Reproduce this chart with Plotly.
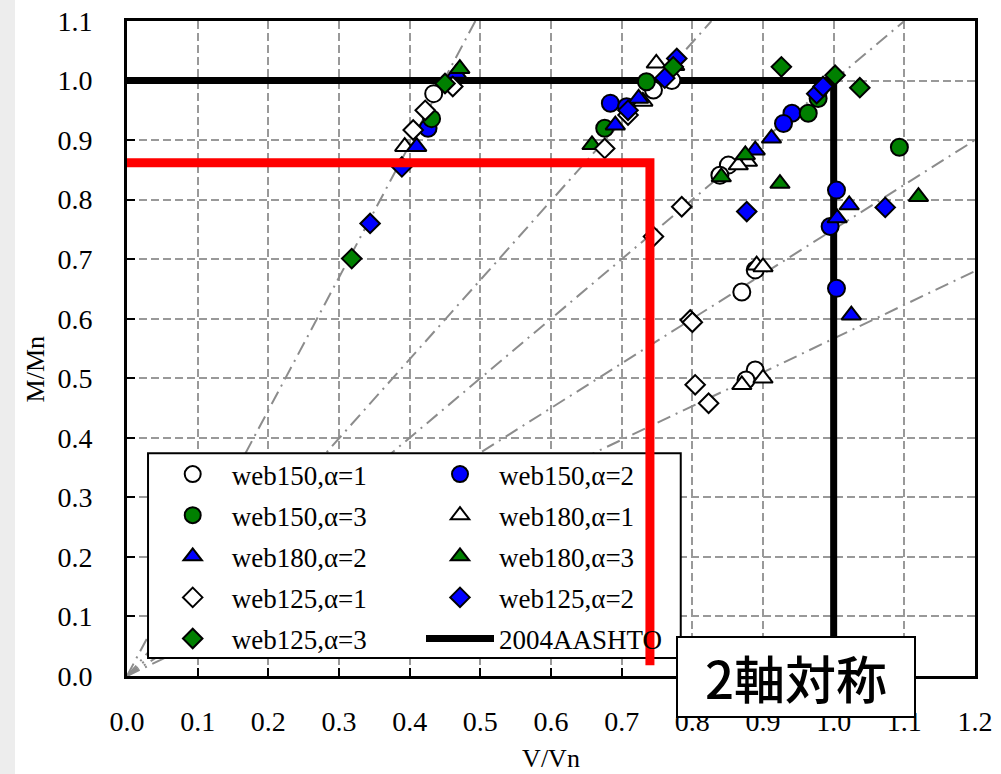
import plotly.graph_objects as go

# ---------------- data ----------------
w150_a1_v = [0.434, 0.771, 0.745, 0.851, 0.839, 0.889, 0.870, 0.889, 0.876]
w150_a1_m = [0.978, 1.000, 0.984, 0.858, 0.841, 0.682, 0.645, 0.514, 0.497]

w150_a2_v = [0.426, 0.684, 0.707, 0.941, 0.929, 1.004, 0.995, 1.004]
w150_a2_m = [0.920, 0.962, 0.956, 0.945, 0.928, 0.816, 0.755, 0.651]

w150_a3_v = [0.431, 0.735, 0.676, 0.978, 0.964, 1.093]
w150_a3_m = [0.936, 0.998, 0.920, 0.970, 0.945, 0.888]

w180_a1_v = [0.393, 0.749, 0.730, 0.878, 0.865, 0.891, 0.900, 0.900, 0.870]
w180_a1_m = [0.889, 1.029, 0.965, 0.864, 0.858, 0.690, 0.687, 0.500, 0.489]

w180_a2_v = [0.466, 0.410, 0.724, 0.691, 0.912, 0.889, 1.022, 1.005, 1.025]
w180_a2_m = [1.012, 0.889, 0.970, 0.925, 0.903, 0.883, 0.791, 0.769, 0.606]

w180_a3_v = [0.471, 0.775, 0.658, 0.875, 0.841, 0.924, 1.120]
w180_a3_m = [1.020, 1.025, 0.892, 0.875, 0.838, 0.827, 0.805]

w125_a1_v = [0.461, 0.422, 0.405, 0.709, 0.676, 0.785, 0.745, 0.797, 0.800, 0.804, 0.823]
w125_a1_m = [0.990, 0.950, 0.917, 0.942, 0.886, 0.788, 0.738, 0.598, 0.594, 0.489, 0.458]

w125_a2_v = [0.389, 0.344, 0.778, 0.761, 0.709, 0.976, 0.985, 0.877, 1.073]
w125_a2_m = [0.855, 0.760, 1.037, 1.004, 0.950, 0.978, 0.990, 0.780, 0.787]

w125_a3_v = [0.450, 0.318, 0.773, 0.926, 1.002, 1.037]
w125_a3_m = [0.995, 0.701, 1.023, 1.023, 1.009, 0.988]

aashto_v = [0.0, 1.0, 1.0]
aashto_m = [1.0, 1.0, 0.0]

red_v = [0.0, 0.740, 0.740]
red_m = [0.862, 0.862, 0.018]

# reference rays from the origin (end points on the frame)
ray_end_v = [0.493, 0.827, 1.10, 1.20, 1.20]
ray_end_m = [1.10, 1.10, 1.10, 0.90, 0.68]

x_ticks = [0.0, 0.1, 0.2, 0.3, 0.4, 0.5, 0.6, 0.7, 0.8, 0.9, 1.0, 1.1, 1.2]
y_ticks = [0.0, 0.1, 0.2, 0.3, 0.4, 0.5, 0.6, 0.7, 0.8, 0.9, 1.0, 1.1]

series = [
    # name, V, M, symbol, fill, legend
    ("web150,α=1", w150_a1_v, w150_a1_m, "circle", "#ffffff", "legend"),
    ("web150,α=2", w150_a2_v, w150_a2_m, "circle", "#0000ff", "legend2"),
    ("web150,α=3", w150_a3_v, w150_a3_m, "circle", "#008000", "legend"),
    ("web180,α=1", w180_a1_v, w180_a1_m, "triangle-up", "#ffffff", "legend2"),
    ("web180,α=2", w180_a2_v, w180_a2_m, "triangle-up", "#0000ff", "legend"),
    ("web180,α=3", w180_a3_v, w180_a3_m, "triangle-up", "#008000", "legend2"),
    ("web125,α=1", w125_a1_v, w125_a1_m, "diamond", "#ffffff", "legend"),
    ("web125,α=2", w125_a2_v, w125_a2_m, "diamond", "#0000ff", "legend2"),
    ("web125,α=3", w125_a3_v, w125_a3_m, "diamond", "#008000", "legend"),
]
sizes = {"circle": 17, "triangle-up": 17, "diamond": 15}

SERIF = "Liberation Serif"

fig = go.Figure()

for ev, em in zip(ray_end_v, ray_end_m):
    fig.add_trace(go.Scatter(
        x=[0, ev], y=[0, em], mode="lines", showlegend=False, hoverinfo="skip",
        line=dict(color="#8c8c8c", width=2, dash="14px,6px,2px,6px")))

fig.add_trace(go.Scatter(
    x=aashto_v, y=aashto_m, mode="lines", name="2004AASHTO",
    legend="legend2", legendgroup="aashto", legendrank=2000,
    line=dict(color="black", width=7)))

for i, (name, v, m, sym, fill, lg) in enumerate(series):
    fig.add_trace(go.Scatter(
        x=v, y=m, mode="markers", name=name, legend=lg, legendgroup=name,
        legendrank=1000 + i,
        marker=dict(symbol=sym, size=sizes[sym], color=fill,
                    line=dict(color="black", width=2))))

# faint striped band at the far left of the slide
fig.add_shape(type="rect", xref="paper", yref="paper",
              x0=-0.1498, x1=-0.1321, y0=-0.15, y1=1.033,
              fillcolor="#ededed", line=dict(width=0), layer="below")

# legend frame (white box covering grid and rays)
fig.add_shape(type="rect", xref="paper", yref="paper",
              x0=0.0248, x1=0.653, y0=0.0275, y1=0.340,
              fillcolor="white", line=dict(color="black", width=2), layer="above")

# red limit line
red_path = "M " + " L ".join(f"{v},{m}" for v, m in zip(red_v, red_m))
fig.add_shape(type="path", xref="x", yref="y", path=red_path,
              line=dict(color="#ff0000", width=9), layer="above")

fig.add_annotation(
    text="2軸対称", xref="paper", yref="paper", x=0.789, y=-0.002,
    xanchor="center", yanchor="middle", showarrow=False,
    font=dict(family="Noto Sans CJK JP", size=51, color="black", weight=500),
    bgcolor="white", bordercolor="black", borderwidth=2, borderpad=2,
    width=232, height=74)

fig.add_annotation(
    text="M/Mn", xref="paper", yref="paper", x=-0.1085, y=0.468,
    xanchor="center", yanchor="middle", showarrow=False, textangle=-90,
    font=dict(family=SERIF, size=26, color="black"))

axis_common = dict(
    showline=True, linecolor="black", linewidth=3, mirror=True,
    ticks="inside", ticklen=8, tickwidth=2, tickcolor="black",
    showgrid=True, gridcolor="#999999", gridwidth=2, griddash="8px,4px",
    zeroline=False, tickformat=".1f", automargin=False,
    ticklabeloverflow="allow",
    tickfont=dict(family=SERIF, size=28, color="black"),
)

fig.update_layout(
    width=1001, height=774,
    margin=dict(l=127, r=26, t=21, b=98),
    paper_bgcolor="white", plot_bgcolor="white",
    xaxis=dict(range=[0, 1.2], tickvals=x_ticks,
               title=dict(text="V/Vn", font=dict(family=SERIF, size=26, color="black"), standoff=14),
               ticklabelstandoff=18, **axis_common),
    yaxis=dict(range=[0, 1.1], tickvals=y_ticks,
               ticklabelstandoff=26, **axis_common),
    legend=dict(x=0.0315, y=0.345, xanchor="left", yanchor="top",
                bgcolor="rgba(0,0,0,0)", borderwidth=0, itemwidth=68,
                tracegroupgap=3, itemsizing="trace",
                font=dict(family=SERIF, size=27, color="black")),
    legend2=dict(x=0.3467, y=0.345, xanchor="left", yanchor="top",
                 bgcolor="rgba(0,0,0,0)", borderwidth=0, itemwidth=68,
                 tracegroupgap=3, itemsizing="trace",
                 font=dict(family=SERIF, size=27, color="black")),
    showlegend=True,
)

fig.write_html("out.html", config={"displayModeBar": False},
               post_script="document.body.style.margin='0px';")
